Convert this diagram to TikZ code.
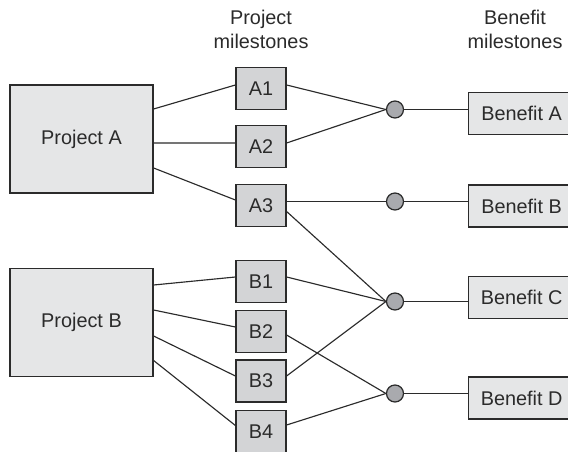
\documentclass[tikz,border=0pt]{standalone}
\usepackage{fontspec}
\setmainfont{Liberation Sans}
\usepackage{tikz}
\usetikzlibrary{positioning}

\definecolor{boxlight}{HTML}{E5E6E7}
\definecolor{boxmid}{HTML}{D3D4D6}
\definecolor{hubgray}{HTML}{A9AAAE}
\definecolor{inkdark}{HTML}{2B2B2B}

\begin{document}
\begin{tikzpicture}[x=0.02cm,y=-0.02cm,
  every node/.style={font=\fontsize{11.3}{13.6}\selectfont,text=inkdark},
  proj/.style={draw=inkdark,fill=boxlight,line width=0.7pt,minimum width=2.86cm,minimum height=2.16cm,inner sep=0pt},
  mile/.style={draw=inkdark,fill=boxmid,line width=0.7pt,minimum width=1.0cm,minimum height=0.84cm,inner sep=0pt},
  ben/.style={draw=inkdark,fill=boxlight,line width=0.7pt,anchor=west,minimum width=2.5cm,minimum height=0.84cm,inner sep=0pt,execute at end node={\hspace*{0.38cm}}},
  hub/.style={circle,draw=inkdark,fill=hubgray,line width=0.7pt,minimum size=0.34cm,inner sep=0pt},
  head/.style={align=center},
  link/.style={draw=inkdark,line width=0.65pt}]
\useasboundingbox (0,0) rectangle (568,452);
% headers
\node[head] (hp) at (261,29) {Project\\milestones};
\node[head] (hbm) at (515,29) {Benefit\\milestones};
% projects
\node[proj] (pa) at (81.5,139) {Project A};
\node[proj] (pb) at (81.5,322.5) {Project B};
% project milestones
\node[mile] (a1) at (261,88.5) {A1};
\node[mile] (a2) at (261,146.5) {A2};
\node[mile] (a3) at (261,205.5) {A3};
\node[mile] (b1) at (261,281.5) {B1};
\node[mile] (b2) at (261,331.5) {B2};
\node[mile] (b3) at (261,381) {B3};
\node[mile] (b4) at (261,431.5) {B4};
% benefit milestones
\node[ben] (bena) at (468,113.5) {Benefit A};
\node[ben] (benb) at (468,206) {Benefit B};
\node[ben] (benc) at (468,297.5) {Benefit C};
\node[ben] (bend) at (468,398) {Benefit D};
% links project -> milestones
\draw[link] ([yshift=0.6cm]pa.east) -- ([yshift=0.07cm]a1.west);
\draw[link] ([yshift=-0.08cm]pa.east) -- ([yshift=0.07cm]a2.west);
\draw[link] ([yshift=-0.58cm]pa.east) -- ([yshift=0.11cm]a3.west);
\draw[link] ([yshift=0.75cm]pb.east) -- ([yshift=0.09cm]b1.west);
\draw[link] ([yshift=0.25cm]pb.east) -- ([yshift=0.09cm]b2.west);
\draw[link] ([yshift=-0.27cm]pb.east) -- ([yshift=0.1cm]b3.west);
\draw[link] ([yshift=-0.76cm]pb.east) -- ([yshift=0.12cm]b4.west);
% hubs
\node[hub] (ha) at (395,109.5) {};
\node[hub] (hb) at (395,201.5) {};
\node[hub] (hc) at (395,301.5) {};
\node[hub] (hd) at (395,393.5) {};
% links milestones -> hubs
\draw[link] ([yshift=0.07cm]a1.east) -- (ha.west);
\draw[link] ([yshift=0.07cm]a2.east) -- (ha.west);
\draw[link] (a3.east |- hb) -- (hb.west);
\draw[link] ([yshift=-0.12cm]a3.east) -- (hc.west);
\draw[link] ([yshift=0.09cm]b1.east) -- (hc.west);
\draw[link] ([yshift=-0.07cm]b2.east) -- (hd.west);
\draw[link] ([yshift=0.1cm]b3.east) -- (hc.west);
\draw[link] ([yshift=0.13cm]b4.east) -- (hd.west);
% links hubs -> benefits
\draw[link] (ha.east) -- (ha -| bena.west);
\draw[link] (hb.east) -- (hb -| benb.west);
\draw[link] (hc.east) -- (hc -| benc.west);
\draw[link] (hd.east) -- (hd -| bend.west);
\end{tikzpicture}
\end{document}
